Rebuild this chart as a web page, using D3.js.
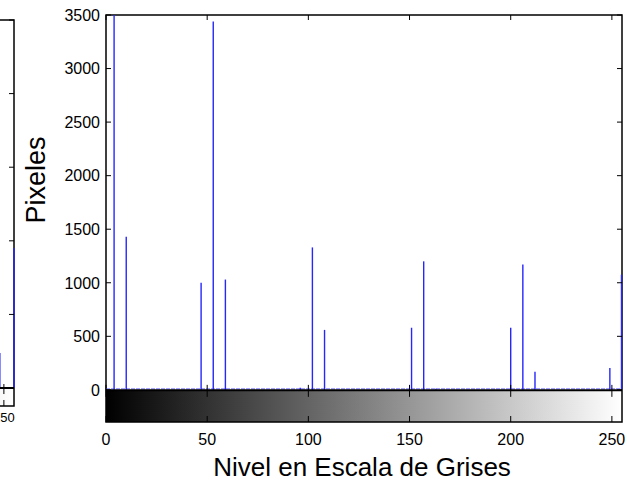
<!DOCTYPE html>
<html>
<head>
<meta charset="utf-8">
<script src="https://cdn.jsdelivr.net/npm/d3@7"></script>
<style>
  body { margin: 0; background: #fff; }
  text { font-family: "Liberation Sans", Arial, sans-serif; fill: #000; }
</style>
</head>
<body>
<script>
// size of the page
const width = 627;
const height = 482;

// histogram of the main image: grey level and pixel count
const levels = [4, 10, 47, 53, 59, 96, 102, 108, 151, 157, 163, 200, 206, 212, 249, 255];
const counts = [3600, 1430, 1000, 3440, 1030, 20, 1330, 560, 580, 1200, 10, 580, 1170, 170, 205, 1075];

// the bit of the neighbouring panel that shows on the left edge
const leftLevels = [248, 255];
const leftCounts = [238, 951];

// tick labels
const xTicks = [0, 50, 100, 150, 200, 250];
const yTicks = [0, 500, 1000, 1500, 2000, 2500, 3000, 3500];
const leftYTicks = [0, 500, 1000, 1500, 2000, 2500];

var svg = d3.select("body").append("svg")
  .attr("width", width)
  .attr("height", height);

// gradient for the grey colorbar under the histogram
var defs = svg.append("defs");
var grad = defs.append("linearGradient").attr("id", "greys");
grad.append("stop").attr("offset", "0%").attr("stop-color", "#000");
grad.append("stop").attr("offset", "100%").attr("stop-color", "#fff");

defs.append("clipPath").attr("id", "mainClip")
  .append("rect").attr("x", 100).attr("y", 15).attr("width", 530).attr("height", 375);

/* ---------- main panel ---------- */
var x = d3.scaleLinear().domain([0, 255]).range([106, 622]);
var y = d3.scaleLinear().domain([-300, 3500]).range([422, 15]);

// colorbar
svg.append("rect")
  .attr("x", x(0)).attr("y", y(0))
  .attr("width", x(255) - x(0)).attr("height", y(-300) - y(0))
  .attr("fill", "url(#greys)");

// box
svg.append("rect")
  .attr("x", x(0)).attr("y", y(3500))
  .attr("width", x(255) - x(0)).attr("height", y(-300) - y(3500))
  .attr("fill", "none").attr("stroke", "#000").attr("stroke-width", 1.5);

// baseline of the stems
svg.append("line")
  .attr("x1", x(0)).attr("x2", x(255))
  .attr("y1", y(0) - 1).attr("y2", y(0) - 1)
  .attr("stroke", "#7070ff").attr("stroke-width", 1)
  .attr("stroke-dasharray", "4,1");

// stems
svg.append("g").attr("clip-path", "url(#mainClip)")
  .selectAll("line")
  .data(levels)
  .enter().append("line")
  .attr("x1", d => x(d) - (d == 255 ? 0.5 : 0)).attr("x2", d => x(d) - (d == 255 ? 0.5 : 0))
  .attr("y1", y(0)).attr("y2", (d, i) => y(counts[i]))
  .attr("stroke", "#2626ff").attr("stroke-width", 1.4);

svg.append("line")
  .attr("x1", x(0)).attr("x2", x(255))
  .attr("y1", y(0) + 0.5).attr("y2", y(0) + 0.5)
  .attr("stroke", "#000").attr("stroke-width", 2);

// y ticks, inside on both sides
var yt = svg.append("g");
yTicks.forEach(function (t) {
  yt.append("line").attr("x1", x(0)).attr("x2", x(0) + 5)
    .attr("y1", y(t)).attr("y2", y(t)).attr("stroke", "#000");
  yt.append("line").attr("x1", x(255)).attr("x2", x(255) - 5)
    .attr("y1", y(t)).attr("y2", y(t)).attr("stroke", "#000");
  yt.append("text")
    .attr("x", x(0) - 6).attr("y", y(t))
    .attr("dy", "0.36em")
    .attr("text-anchor", "end")
    .style("font-size", "16px")
    .text(t);
});

// x ticks, top and on the colorbar
var xt = svg.append("g");
xTicks.forEach(function (t) {
  xt.append("line").attr("x1", x(t)).attr("x2", x(t))
    .attr("y1", y(3500)).attr("y2", y(3500) + 5).attr("stroke", "#000");
  xt.append("line").attr("x1", x(t)).attr("x2", x(t))
    .attr("y1", y(0) - 5).attr("y2", y(0) + 7).attr("stroke", "#000");
  xt.append("line").attr("x1", x(t)).attr("x2", x(t))
    .attr("y1", y(-300)).attr("y2", y(-300) - 6).attr("stroke", "#000");
  xt.append("text")
    .attr("x", x(t)).attr("y", y(-300) + 23)
    .attr("text-anchor", "middle")
    .style("font-size", "16px")
    .text(t);
});

// axis titles
svg.append("text")
  .attr("x", 362).attr("y", 476)
  .attr("text-anchor", "middle")
  .style("font-size", "26px")
  .text("Nivel en Escala de Grises");

svg.append("text")
  .attr("transform", "translate(45,180) rotate(-90)")
  .attr("text-anchor", "middle")
  .style("font-size", "27px")
  .text("Pixeles");

/* ---------- left panel (cut off) ---------- */
var lx = d3.scaleLinear().domain([0, 255]).range([-502, 14]);
var ly = d3.scaleLinear().domain([-122, 2500]).range([406, 20]);

svg.append("rect")
  .attr("x", lx(0)).attr("y", ly(0))
  .attr("width", lx(255) - lx(0)).attr("height", ly(-122) - ly(0))
  .attr("fill", "url(#greys)");

svg.append("rect")
  .attr("x", lx(0)).attr("y", ly(2500))
  .attr("width", lx(255) - lx(0)).attr("height", ly(-122) - ly(2500))
  .attr("fill", "none").attr("stroke", "#000").attr("stroke-width", 1.5);

svg.selectAll(".lstem")
  .data(leftLevels)
  .enter().append("line")
  .attr("class", "lstem")
  .attr("x1", d => lx(d)).attr("x2", d => lx(d))
  .attr("y1", ly(0)).attr("y2", (d, i) => ly(leftCounts[i]))
  .attr("stroke", "#2626ff").attr("stroke-width", 1.4);

svg.append("line")
  .attr("x1", lx(0)).attr("x2", lx(255))
  .attr("y1", ly(0)).attr("y2", ly(0))
  .attr("stroke", "#000").attr("stroke-width", 2);

leftYTicks.forEach(function (t) {
  svg.append("line").attr("x1", lx(255)).attr("x2", lx(255) - 5)
    .attr("y1", ly(t)).attr("y2", ly(t)).attr("stroke", "#000");
});

// only the ticks that reach into the page
xTicks.filter(t => lx(t) > -20).forEach(function (t) {
  svg.append("line").attr("x1", lx(t)).attr("x2", lx(t))
    .attr("y1", ly(-122)).attr("y2", ly(-122) - 6).attr("stroke", "#000");
  svg.append("line").attr("x1", lx(t)).attr("x2", lx(t))
    .attr("y1", ly(0) - 4).attr("y2", ly(0) + 6).attr("stroke", "#000");
  svg.append("text")
    .attr("x", lx(t)).attr("y", ly(-122) + 16)
    .attr("text-anchor", "middle")
    .style("font-size", "13px")
    .text(t);
});
</script>
</body>
</html>
